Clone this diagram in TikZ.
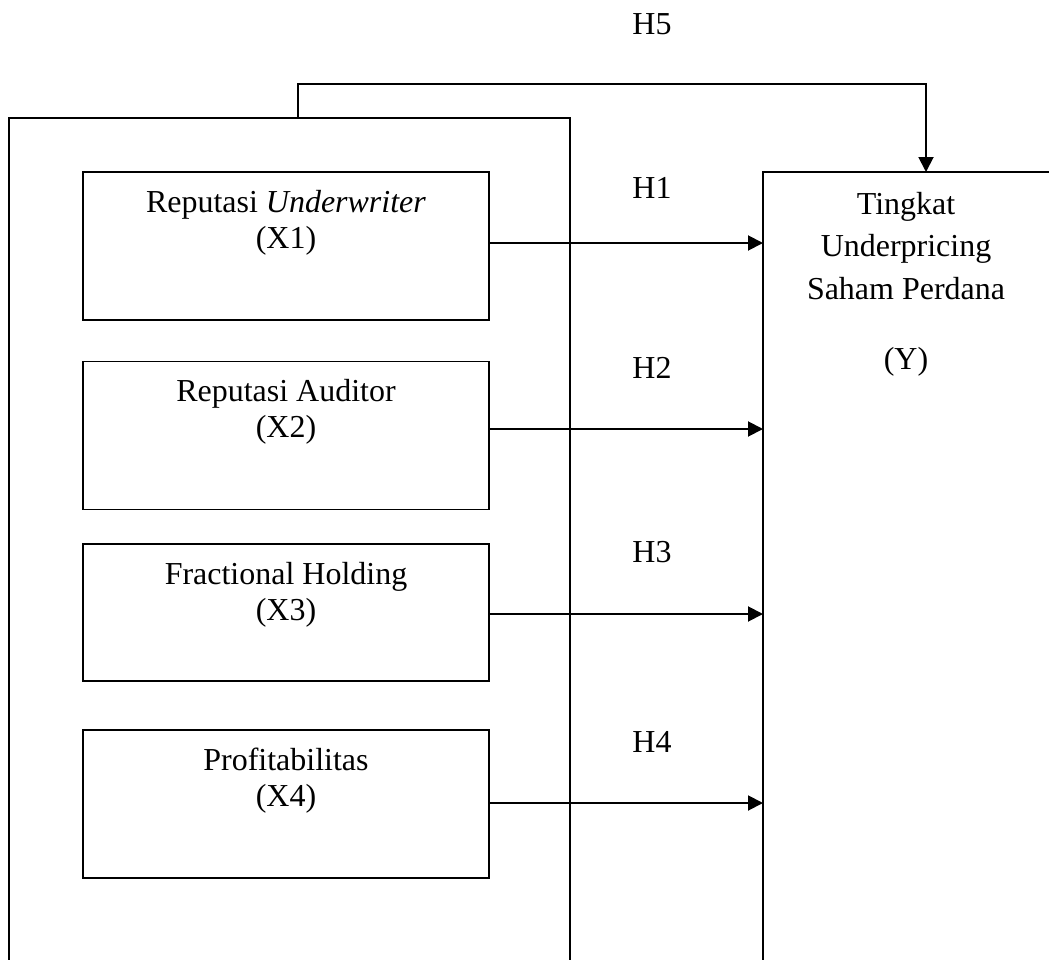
\documentclass[tikz,border=0pt]{standalone}
\usepackage{fontspec}
\setmainfont{Liberation Serif}
\usepackage{tikz}
\usetikzlibrary{arrows.meta,calc}

\tikzset{
  varbox/.style={draw, line width=1.1pt, minimum width=8.12cm, minimum height=2.96cm, inner sep=0pt},
  vartext/.style={anchor=north, align=center, inner sep=0pt},
  hlabel/.style={inner sep=0pt},
  arr/.style={line width=1.1pt, -{Triangle[length=3mm,width=3mm]}}
}

\begin{document}
\begin{tikzpicture}[x=0.02cm, y=-0.02cm, line width=1.1pt, font=\fontsize{18.2}{20.5}\selectfont]
\useasboundingbox (0,0) rectangle (1049,960);
\def\BOT{960};\def\RGT{1049};
\draw (9,\BOT) -- (9,118) -- (570,118) -- (570,\BOT);
\coordinate (outtop) at (298,118);
\coordinate (ybox) at (763,172);
\coordinate (ytop) at (926,172);
\draw (763,\BOT) -- (ybox) -- (\RGT,172);
\node[varbox] (x1) at (286,246) {};
\node[varbox] (x2) at (286,435.5) {};
\node[varbox, minimum height=2.74cm] (x3) at (286,612.5) {};
\node[varbox] (x4) at (286,804) {};
\node[vartext] (t1) at ([yshift=-0.36cm]x1.north) {Reputasi \textit{Underwriter}\\(X1)};
\node[vartext] (t2) at ([yshift=-0.36cm]x2.north) {Reputasi Auditor\\(X2)};
\node[vartext] (t3) at ([yshift=-0.36cm]x3.north) {Fractional Holding\\(X3)};
\node[vartext] (t4) at ([yshift=-0.36cm]x4.north) {Profitabilitas\\(X4)};
\node[vartext, font=\fontsize{18.2}{24.2}\selectfont] (ty) at (906,191)
  {Tingkat\\Underpricing\\Saham Perdana\\[0.55cm](Y)};
\foreach \i/\dy in {1/0.06,2/0.13,3/-0.03,4/0.02}
  \draw[arr] ([yshift=\dy cm]x\i.east) -- ([yshift=\dy cm]x\i.east -| ybox);
\draw[arr] (outtop) -- ++(0,-34) -| (ytop);
\node[hlabel] (h1) at (652,188) {H1};
\node[hlabel] (h2) at (652,368) {H2};
\node[hlabel] (h3) at (652,552) {H3};
\node[hlabel] (h4) at (652,742) {H4};
\node[hlabel] (h5) at (652,24) {H5};
\end{tikzpicture}
\end{document}
